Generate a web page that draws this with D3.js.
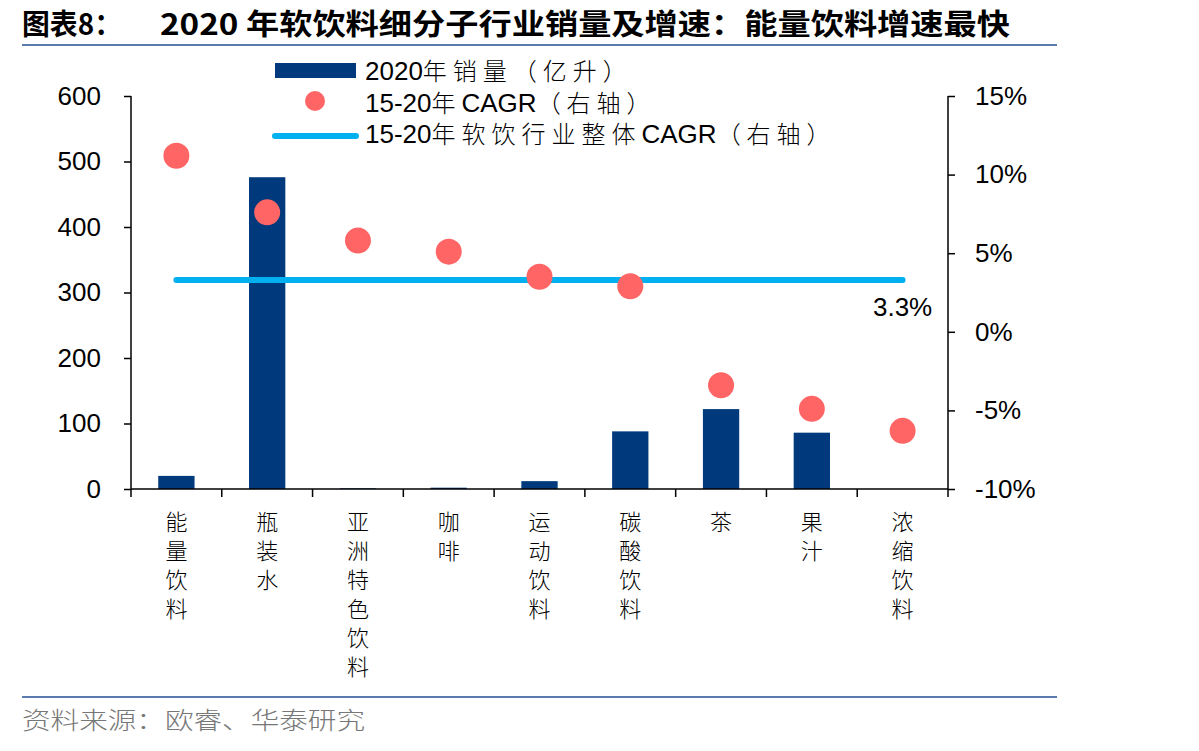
<!DOCTYPE html>
<html><head><meta charset="utf-8">
<script src="https://cdn.jsdelivr.net/npm/d3@7"></script>
<style>body{margin:0;background:#fff}svg{display:block}</style>
</head><body>
<svg id="c" width="1199" height="751"></svg>
<script>
const categories = ["能量饮料","瓶装水","亚洲特色饮料","咖啡","运动饮料","碳酸饮料","茶","果汁","浓缩饮料"];
const volume2020 = [20, 476, 1, 2, 12, 88, 122, 86, 0];
const cagr1520 = [11.2, 7.6, 5.8, 5.1, 3.5, 2.9, -3.4, -4.9, -6.3];
const industryCagr = 3.3;
const leftTicks = [0,100,200,300,400,500,600];
const rightTicks = [-10,-5,0,5,10,15];
const legendLabels = ["2020年销量（亿升）","15-20年CAGR（右轴）","15-20年软饮行业整体CAGR（右轴）"];

const svg = d3.select("#c");
const L = 131, R = 948, T = 96, B = 489;
const barColor = "#003A7D", dotColor = "#FF6565", lineColor = "#00B0F0";
const numFont = "'Liberation Sans', Arial, sans-serif";
const cjk = "'Noto Sans CJK SC', sans-serif";

// Title
svg.append("text").attr("x",22).attr("y",35).attr("font-family",cjk).attr("font-weight","bold")
  .attr("font-size",29).attr("fill","#000").attr("textLength",100).attr("lengthAdjust","spacingAndGlyphs").text("图表8：");
svg.append("text").attr("x",160).attr("y",35).attr("font-family",cjk).attr("font-weight","bold")
  .attr("font-size",29).attr("fill","#000").attr("textLength",850).attr("lengthAdjust","spacingAndGlyphs")
  .text("2020 年软饮料细分子行业销量及增速：能量饮料增速最快");
svg.append("line").attr("x1",22).attr("x2",1057).attr("y1",45).attr("y2",45).attr("stroke","#5B7BAF").attr("stroke-width",2);
svg.append("line").attr("x1",22).attr("x2",1057).attr("y1",697).attr("y2",697).attr("stroke","#5B7BAF").attr("stroke-width",2);
svg.append("text").attr("x",22).attr("y",729).attr("font-family",cjk).attr("font-weight",300)
  .attr("font-size",24).attr("fill","#777").attr("textLength",343).attr("lengthAdjust","spacingAndGlyphs").text("资料来源：欧睿、华泰研究");

const xb = d3.scaleBand().domain(categories).range([L,R]);
const y = d3.scaleLinear().domain([0,600]).range([B,T]);
const y2 = d3.scaleLinear().domain([-10,15]).range([B,T]);

// bars
svg.append("g").selectAll("rect").data(categories).join("rect")
  .attr("x",(d)=>xb(d)+xb.bandwidth()*0.3).attr("width",xb.bandwidth()*0.4)
  .attr("y",(d,i)=>y(volume2020[i])).attr("height",(d,i)=>B-y(volume2020[i]))
  .attr("fill",barColor);

// axes
const axL = svg.append("g").attr("transform",`translate(${L},0)`)
  .call(d3.axisLeft(y).tickValues(leftTicks).tickSize(7).tickPadding(23).tickFormat(d3.format("d")));
const axR = svg.append("g").attr("transform",`translate(${R},0)`)
  .call(d3.axisRight(y2).tickValues(rightTicks).tickSize(7).tickPadding(20).tickFormat(d=>d+"%"));
const axB = svg.append("g").attr("transform",`translate(0,${B})`)
  .call(d3.axisBottom(xb).tickSize(8).tickFormat(""));
axB.selectAll(".tick").remove();
const bounds = categories.map(c=>xb(c)).concat([R]);
axB.selectAll("line.bt").data(bounds).join("line").attr("class","bt")
  .attr("x1",d=>d).attr("x2",d=>d).attr("y1",0).attr("y2",8);
[axL,axR,axB].forEach(a=>{
  a.selectAll("path").attr("stroke","#000").attr("stroke-width",1.5);
  a.selectAll("line").attr("stroke","#000").attr("stroke-width",1.5);
  a.selectAll("text").attr("font-family",numFont).attr("font-size",26).attr("fill","#000");
});
axL.select("path").attr("d",`M0,${T}V${B}`);
axR.select("path").attr("d",`M0,${T}V${B}`);
axB.select("path").attr("d",`M${L},0H${R}`);

// category labels vertical
const catG = svg.append("g");
categories.forEach((c)=>{
  const cx = xb(c)+xb.bandwidth()/2;
  Array.from(c).forEach((ch,j)=>{
    catG.append("text").attr("x",cx).attr("y",530+j*29).attr("text-anchor","middle")
      .attr("font-family",cjk).attr("font-weight",300).attr("font-size",22).attr("fill","#000").text(ch);
  });
});

// industry line
const cx0 = xb(categories[0])+xb.bandwidth()/2, cxN = xb(categories[categories.length-1])+xb.bandwidth()/2;
svg.append("line").attr("x1",cx0).attr("x2",cxN).attr("y1",y2(industryCagr)).attr("y2",y2(industryCagr))
  .attr("stroke",lineColor).attr("stroke-width",6).attr("stroke-linecap","round");
svg.append("text").attr("x",cxN).attr("y",y2(industryCagr)+36).attr("text-anchor","middle")
  .attr("font-family",numFont).attr("font-size",26).attr("fill","#000").text(industryCagr.toFixed(1)+"%");

// dots
svg.append("g").selectAll("circle").data(categories).join("circle")
  .attr("cx",d=>xb(d)+xb.bandwidth()/2).attr("cy",(d,i)=>y2(cagr1520[i])).attr("r",13)
  .attr("fill",dotColor);

// legend
const lg = svg.append("g");
lg.append("rect").attr("x",275).attr("y",63).attr("width",81).attr("height",15).attr("fill",barColor);
lg.append("circle").attr("cx",315).attr("cy",101).attr("r",10).attr("fill",dotColor);
lg.append("line").attr("x1",275).attr("x2",356).attr("y1",136).attr("y2",136).attr("stroke",lineColor).attr("stroke-width",6).attr("stroke-linecap","round");
const isCJK = ch => /[\u3000-\u9fff\uff00-\uffef]/.test(ch);
legendLabels.forEach((t,i)=>{
  const tx = lg.append("text").attr("x",365).attr("y",80+i*31.5).attr("font-size",24).attr("fill","#000");
  const runs = [];
  Array.from(t).forEach(ch=>{
    const c = isCJK(ch);
    if (runs.length && runs[runs.length-1].c===c) runs[runs.length-1].s += ch; else runs.push({c, s:ch});
  });
  runs.forEach(r=>{
    tx.append("tspan").attr("font-family", r.c ? cjk : numFont)
      .attr("font-weight", r.c ? 300 : 400)
      .attr("font-size", r.c ? 24 : 26)
      .attr("letter-spacing", r.c ? 6 : 0).text(r.s);
  });
});
</script>
</body></html>
